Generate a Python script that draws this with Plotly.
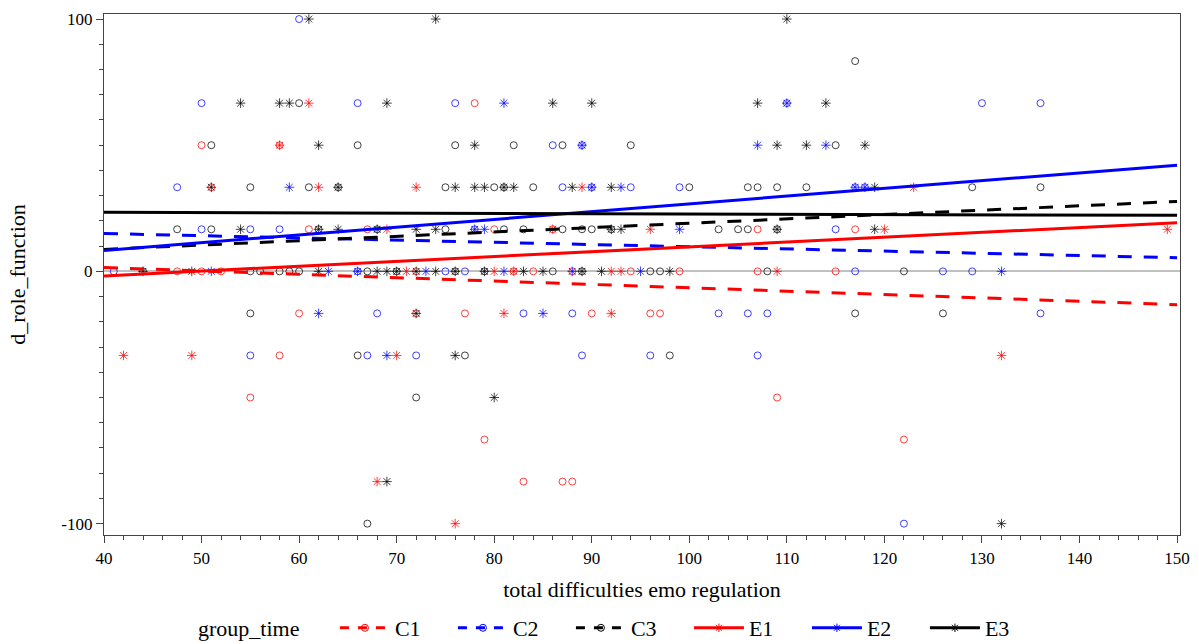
import plotly.graph_objects as go

# ---- data ----
c1_x = [78, 50, 58, 51, 61, 67, 80, 86, 107, 117,
        47.5, 50, 52, 72, 82, 84, 88, 94, 99, 107, 115,
        60, 72, 77, 90, 96, 97, 58, 55, 109, 79, 122, 83, 87, 88]
c1_y = [66.67, 50, 50, 33.33, 16.67, 16.67, 16.67, 16.67, 16.67, 16.67,
        0, 0, 0, 0, 0, 0, 0, 0, 0, 0, 0,
        -16.67, -16.67, -16.67, -16.67, -16.67, -16.67, -33.33, -50, -50, -66.67, -66.67, -83.33, -83.33, -83.33]

c2_x = [60, 50, 66, 76, 110, 130, 136, 86, 89,
        47.5, 87, 90, 94, 99, 117, 118, 50, 55, 58, 78, 115,
        41, 66, 75, 77, 117, 126, 129,
        68, 83, 88, 103, 106, 108, 136, 55, 67, 72, 89, 96, 107, 122]
c2_y = [100, 66.67, 66.67, 66.67, 66.67, 66.67, 66.67, 50, 50,
        33.33, 33.33, 33.33, 33.33, 33.33, 33.33, 33.33, 16.67, 16.67, 16.67, 16.67, 16.67,
        0, 0, 0, 0, 0, 0, 0,
        -16.67, -16.67, -16.67, -16.67, -16.67, -16.67, -16.67, -33.33, -33.33, -33.33, -33.33, -33.33, -33.33, -100]

c3_x = [117, 60, 51, 66, 76, 82, 87, 94, 115,
        55, 61, 64, 75, 80, 81, 84, 100, 106, 107, 109, 112, 129, 136,
        47.5, 51, 62, 68, 75, 81, 83, 87, 89, 90, 92, 103, 105, 106, 109,
        44, 55, 56, 58, 59, 60, 67, 70, 76, 79, 86, 89, 96, 97, 108, 122,
        55, 117, 126, 66, 77, 98, 72, 67]
c3_y = [83.33, 66.67, 50, 50, 50, 50, 50, 50, 50,
        33.33, 33.33, 33.33, 33.33, 33.33, 33.33, 33.33, 33.33, 33.33, 33.33, 33.33, 33.33, 33.33, 33.33,
        16.67, 16.67, 16.67, 16.67, 16.67, 16.67, 16.67, 16.67, 16.67, 16.67, 16.67, 16.67, 16.67, 16.67, 16.67,
        0, 0, 0, 0, 0, 0, 0, 0, 0, 0, 0, 0, 0, 0, 0, 0,
        -16.67, -16.67, -16.67, -33.33, -33.33, -33.33, -50, -100]

e1_x = [61, 58, 62, 72, 89, 123, 69, 86, 96, 120, 149,
        71, 80, 82, 92, 93, 109, 81, 92, 42, 49, 70, 132, 68, 76]
e1_y = [66.67, 50, 33.33, 33.33, 33.33, 33.33, 16.67, 16.67, 16.67, 16.67, 16.67,
        0, 0, 0, 0, 0, 0, -16.67, -16.67, -33.33, -33.33, -33.33, -33.33, -83.33, -100]

e2_x = [81, 110, 89, 107, 114, 59, 90, 93, 117, 118, 78, 79, 99,
        51, 63, 66, 73, 81, 88, 95, 132, 62, 85, 69]
e2_y = [66.67, 66.67, 50, 50, 50, 33.33, 33.33, 33.33, 33.33, 33.33, 16.67, 16.67, 16.67,
        0, 0, 0, 0, 0, 0, 0, 0, -16.67, -16.67, -33.33]

e3_x = [61, 74, 110, 54, 58, 59, 69, 86, 90, 107, 114, 62, 78, 109, 112, 118,
        51, 64, 76, 78, 79, 81, 82, 88, 92, 119,
        54, 62, 64, 68, 72, 74, 92, 93, 109, 119,
        44, 49, 62, 68, 69, 70, 72, 74, 76, 79, 83, 85, 89, 91, 98,
        72, 76, 80, 69, 132]
e3_y = [100, 100, 100, 66.67, 66.67, 66.67, 66.67, 66.67, 66.67, 66.67, 66.67, 50, 50, 50, 50, 50,
        33.33, 33.33, 33.33, 33.33, 33.33, 33.33, 33.33, 33.33, 33.33, 33.33,
        16.67, 16.67, 16.67, 16.67, 16.67, 16.67, 16.67, 16.67, 16.67, 16.67,
        0, 0, 0, 0, 0, 0, 0, 0, 0, 0, 0, 0, 0, 0, 0,
        -16.67, -33.33, -50, -83.33, -100]

# fitted regression lines: value at x=40 and at x=150
fit_x = [40, 150]
c1_fit = [1.5, -13.2]
c2_fit = [15.0, 5.4]
c3_fit = [8.7, 27.7]
e1_fit = [-1.8, 19.3]
e2_fit = [8.3, 42.1]
e3_fit = [23.4, 22.2]

y_tickvals = [-100, 0, 100]
y_ticktext = ["-100", "0", "100"]

groups = ["C1", "C2", "C3", "E1", "E2", "E3"]
xs = [c1_x, c2_x, c3_x, e1_x, e2_x, e3_x]
ys = [c1_y, c2_y, c3_y, e1_y, e2_y, e3_y]
fits = [c1_fit, c2_fit, c3_fit, e1_fit, e2_fit, e3_fit]
colors = ["#ff0000", "#0000ff", "#000000", "#ff0000", "#0000ff", "#000000"]
symbols = ["circle-open", "circle-open", "circle-open",
           "asterisk-open", "asterisk-open", "asterisk-open"]
dashes = ["14px,12px", "14px,12px", "14px,12px", "solid", "solid", "solid"]

FONT = "Liberation Serif"

fig = go.Figure()

for g, x, y, col, sym in zip(groups, xs, ys, colors, symbols):
    fig.add_trace(go.Scatter(
        x=x, y=y, mode="markers", showlegend=False,
        marker=dict(symbol=sym, size=7 if sym.startswith("circle") else 8,
                    color=col, opacity=0.75,
                    line=dict(color=col, width=1)),
        hoverinfo="x+y", name=g))

for g, f, col, d in zip(groups, fits, colors, dashes):
    fig.add_trace(go.Scatter(
        x=fit_x, y=f, mode="lines", showlegend=False,
        line=dict(color=col, width=3, dash=d), name=g))

# legend entries
for g, col, sym, d in zip(groups, colors, symbols, dashes):
    fig.add_trace(go.Scatter(
        x=[None], y=[None], mode="lines+markers", name=g,
        line=dict(color=col, width=3, dash="dash" if d != "solid" else "solid"),
        marker=dict(symbol=sym, size=7, color=col, line=dict(color=col, width=1))))

axis_common = dict(
    showgrid=False, showline=True, linecolor="#444444", linewidth=1.2,
    mirror=True, ticks="outside", ticklen=7, tickcolor="#444444",
    automargin=False,
    tickfont=dict(family=FONT, size=17, color="#000000"),
)

fig.update_xaxes(
    range=[40, 150.3], tick0=40, dtick=10,
    minor=dict(dtick=2, ticks="outside", ticklen=4, tickcolor="#444444"),
    title=dict(text="total difficulties emo regulation",
               font=dict(family=FONT, size=22, color="#000000"), standoff=15),
    zeroline=False, **axis_common)

fig.update_yaxes(
    range=[-104.5, 102], tickvals=y_tickvals, ticktext=y_ticktext,
    minor=dict(tick0=0, dtick=10, ticks="outside", ticklen=4, tickcolor="#444444"),
    title=dict(text="d_role_function",
               font=dict(family=FONT, size=22, color="#000000"), standoff=29),
    ticklabelstandoff=0,
    zeroline=True, zerolinecolor="#c0c0c0", zerolinewidth=1.5,
    **axis_common)

# figure is a bit taller than the window so the legend never forces a margin push;
# the visible 644 px show the same layout as the reference
fig.update_layout(
    template="none",
    width=1199, height=690,
    margin=dict(l=104, r=19, t=14, b=155),
    plot_bgcolor="white", paper_bgcolor="white",
    font=dict(family=FONT, size=22, color="#000000"),
    legend=dict(
        orientation="h",
        x=0.0855, xanchor="left", y=-0.1785, yanchor="middle",
        title=dict(text="group_time\u00a0\u00a0\u00a0\u00a0\u00a0",
                   font=dict(family=FONT, size=22)),
        font=dict(family=FONT, size=22), itemwidth=50,
        entrywidth=53, entrywidthmode="pixels", tracegroupgap=0,
        borderwidth=0, bgcolor="rgba(0,0,0,0)"),
    showlegend=True,
)

fig.write_html(
    "out.html",
    config={"displayModeBar": False},
    post_script="document.body.style.margin='0';document.body.style.overflow='hidden';",
)
